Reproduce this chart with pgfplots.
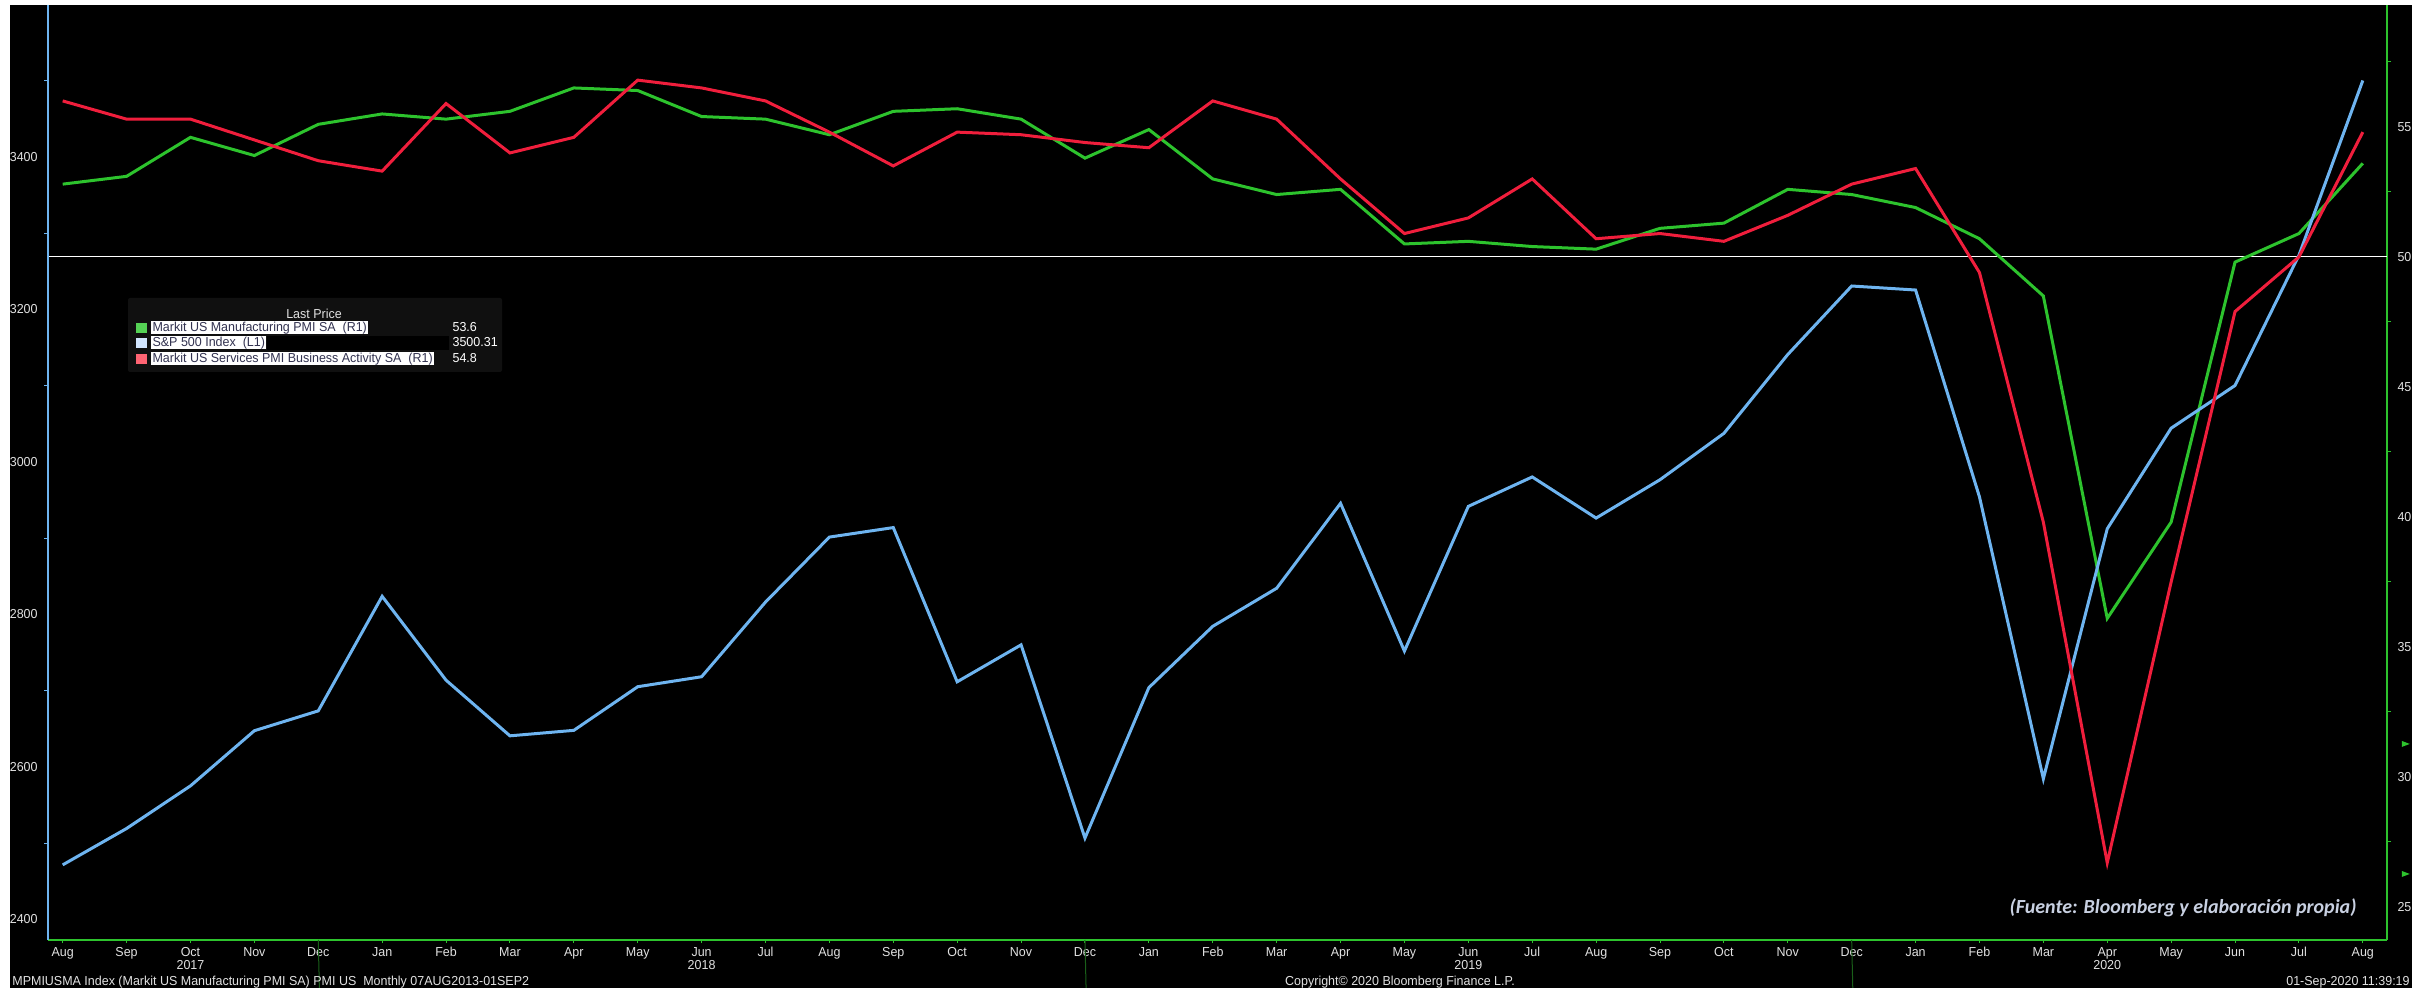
\documentclass[border=0pt]{standalone}
\usepackage{fontspec}
\usepackage{pgfplots}
\usepackage{pgfplotstable}
\pgfplotsset{compat=1.18}
\setmainfont{Liberation Sans}
\newfontfamily\bbfont[FakeStretch=0.96]{Liberation Sans}
\newfontfamily\srcfont{Carlito}

\definecolor{spblue}{RGB}{110,180,240}
\definecolor{pmigreen}{RGB}{45,195,45}
\definecolor{pmired}{RGB}{240,30,60}
\definecolor{lbltext}{RGB}{225,225,225}
\definecolor{sepgreen}{RGB}{25,95,25}
\definecolor{legbg}{RGB}{16,16,16}
\definecolor{legtext}{RGB}{50,50,80}
\definecolor{srctext}{RGB}{200,208,225}
\definecolor{leggreen}{RGB}{85,210,85}
\definecolor{legblue}{RGB}{210,230,255}
\definecolor{legred}{RGB}{255,100,115}

\newcommand{\bbsize}{\bbfont\fontsize{6.5}{6.5}\selectfont}

% month index 0 = Aug 2017 ... 36 = Aug 2020
\pgfplotstableread{
idx spx mfg svc
0 2471.65 52.8 56.0
1 2519.36 53.1 55.3
2 2575.26 54.6 55.3
3 2647.58 53.9 54.5
4 2673.61 55.1 53.7
5 2823.81 55.5 53.3
6 2713.83 55.3 55.9
7 2640.87 55.6 54.0
8 2648.05 56.5 54.6
9 2705.27 56.4 56.8
10 2718.37 55.4 56.5
11 2816.29 55.3 56.0
12 2901.52 54.7 54.8
13 2913.98 55.6 53.5
14 2711.74 55.7 54.8
15 2760.17 55.3 54.7
16 2506.85 53.8 54.4
17 2704.10 54.9 54.2
18 2784.49 53.0 56.0
19 2834.40 52.4 55.3
20 2945.83 52.6 53.0
21 2752.06 50.5 50.9
22 2941.76 50.6 51.5
23 2980.38 50.4 53.0
24 2926.46 50.3 50.7
25 2976.74 51.1 50.9
26 3037.56 51.3 50.6
27 3140.98 52.6 51.6
28 3230.78 52.4 52.8
29 3225.52 51.9 53.4
30 2954.22 50.7 49.4
31 2584.59 48.5 39.8
32 2912.43 36.1 26.7
33 3044.31 39.8 37.5
34 3100.29 49.8 47.9
35 3271.12 50.9 50.0
36 3500.31 53.6 54.8
}\pmidata

\pgfplotsset{base/.style={
  scale only axis, width=1169.5pt, height=467.5pt,
  xmin=-0.23, xmax=36.38, at={(0,0)}, anchor=south west,
  clip mode=individual,
  tick align=outside, major tick length=1.5pt, minor tick length=2pt,
  ticklabel style={font=\bbsize, text=lbltext},
  /pgf/number format/assume math mode=true,
  /pgf/number format/1000 sep={},
}}

\begin{document}
\begin{tikzpicture}
\path[use as bounding box] (-24pt,-24pt) rectangle (1188.5pt,470pt);
\fill[black] (-19pt,-24pt) rectangle (1182pt,467.5pt);

% right scale: manufacturing PMI, 50 line, x axis
\begin{axis}[base, ymin=23.73, ymax=59.69,
  axis y line*=right, axis x line*=bottom,
  x axis line style={pmigreen, line width=0.75pt, -},
  y axis line style={pmigreen, line width=0.75pt, -},
  xtick={0,...,36},
  xticklabels={Aug,Sep,{Oct\\2017},Nov,Dec,Jan,Feb,Mar,Apr,May,{Jun\\2018},Jul,
    Aug,Sep,Oct,Nov,Dec,Jan,Feb,Mar,Apr,May,{Jun\\2019},Jul,
    Aug,Sep,Oct,Nov,Dec,Jan,Feb,Mar,{Apr\\2020},May,Jun,Jul,Aug},
  xticklabel style={align=center, inner sep=0pt, yshift=-2pt},
  major x tick style={pmigreen, line width=0.5pt},
  ytick={25,30,...,55}, minor ytick={27.5,32.5,...,57.5},
  major y tick style={draw=none},
  minor y tick style={pmigreen, line width=0.5pt},
  yticklabel style={anchor=west, inner sep=0pt, xshift=3.5pt},
]
\draw[white, line width=0.5pt] (axis cs:-0.23,50) -- (axis cs:36.38,50);
\addplot[pmigreen, line width=1.5pt] table[x=idx, y=mfg] {\pmidata};
\pgfplotsinvokeforeach{25,30,...,55}{
  \fill[pmigreen] (axis cs:36.38,#1) ++(0,1.5pt) -- ++(4pt,-1.5pt) -- ++(-4pt,-1.5pt) -- cycle;
}
\pgfplotsinvokeforeach{4,16,28}{
  \draw[sepgreen, line width=0.5pt] (axis cs:#1,23.73) -- ++(0,-11pt);
}
\end{axis}

% left scale: S&P 500
\begin{axis}[base, ymin=2373.1, ymax=3599.3,
  axis y line*=left, axis x line=none, xtick=\empty,
  y axis line style={spblue, line width=0.75pt, -},
  ytick={2400,2600,...,3400}, minor ytick={2500,2700,...,3500},
  major y tick style={draw=none},
  minor y tick style={spblue, line width=0.5pt},
  yticklabel style={anchor=east, inner sep=0pt, xshift=-3.5pt},
]
\addplot[spblue, line width=1.5pt] table[x=idx, y=spx] {\pmidata};
\pgfplotsinvokeforeach{2400,2600,...,3400}{
  \fill[spblue] (axis cs:-0.23,#1) ++(0,1.5pt) -- ++(-4pt,-1.5pt) -- ++(4pt,-1.5pt) -- cycle;
}
\end{axis}

% right scale: services PMI
\begin{axis}[base, ymin=23.73, ymax=59.69, hide axis]
\addplot[pmired, line width=1.5pt] table[x=idx, y=svc] {\pmidata};
\end{axis}

% legend
\fill[legbg, rounded corners=1pt] (40pt,284pt) rectangle (227pt,321pt);
\node[text=lbltext, font=\bbsize] at (133pt,313pt) {Last Price};
\fill[leggreen] (44pt,303.3pt) rectangle (49.5pt,308.7pt);
\fill[legblue] (44pt,295.8pt) rectangle (49.5pt,301.2pt);
\fill[legred] (44pt,287.8pt) rectangle (49.5pt,293.2pt);
\begin{scope}[every node/.style={anchor=west, font=\bbsize, inner xsep=0.6pt, inner ysep=0pt, text height=5pt, text depth=1.5pt}]
\node[fill=white, text=legtext] at (51.5pt,306pt) {Markit US Manufacturing PMI SA\ \ (R1)};
\node[fill=white, text=legtext] (r2) at (51.5pt,298.5pt) {S\&P 500 Index\ \ (L1)};
\node[fill=white, text=legtext] at (51.5pt,290.5pt) {Markit US Services PMI Business Activity SA\ \ (R1)};
\fill[black] (r2.north east) rectangle (200.5pt,295pt);
\node[text=white] at (201.5pt,306pt) {53.6};
\node[text=white] at (201.5pt,298.5pt) {3500.31};
\node[text=white] at (201.5pt,290.5pt) {54.8};
\end{scope}

% source note and footer
\node[font=\srcfont\bfseries\itshape\fontsize{10}{10}\selectfont, text=srctext] at (1067.5pt,16pt) {(Fuente: Bloomberg y elaboración propia)};
\node[anchor=west, font=\bbsize, text=lbltext, inner sep=0pt] at (-18pt,-21pt) {MPMIUSMA Index (Markit US Manufacturing PMI SA) PMI US\ \ Monthly 07AUG2013-01SEP2};
\node[font=\bbsize, text=lbltext, inner sep=0pt] at (676pt,-21pt) {Copyright© 2020 Bloomberg Finance L.P.};
\node[anchor=east, font=\bbsize, text=lbltext, inner sep=0pt] at (1181pt,-21pt) {01-Sep-2020 11:39:19};
\end{tikzpicture}
\end{document}
